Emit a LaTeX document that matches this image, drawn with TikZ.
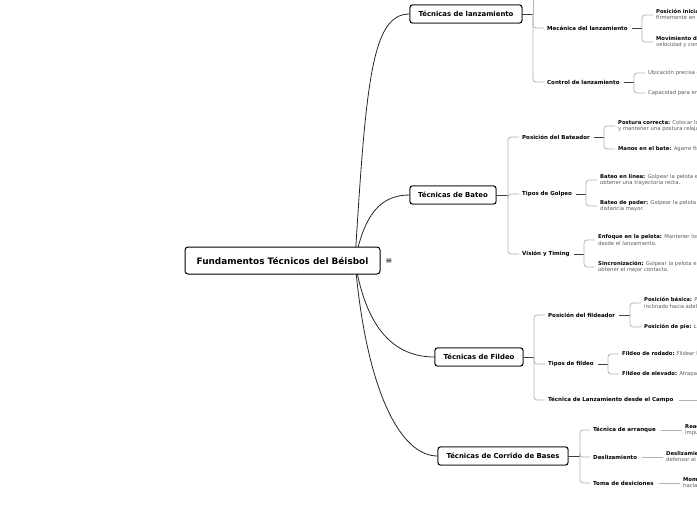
\documentclass[tikz,border=0pt]{standalone}
\usepackage{fontspec}
\setmainfont{DejaVu Sans}
\begin{document}
\begin{tikzpicture}[x=1pt,y=-1pt,
  rootbox/.style={draw=black, line width=1pt, rounded corners=3pt, fill=white, minimum width=195pt, minimum height=27pt, font=\fontsize{8.9}{10}\selectfont\bfseries, inner sep=0pt},
  topicbox/.style={draw=black, line width=0.9pt, rounded corners=2.5pt, fill=white, minimum height=18pt, font=\fontsize{6.9}{8}\selectfont\bfseries, inner sep=0pt},
  subtext/.style={font=\fontsize{5.5}{6.5}\selectfont\bfseries, anchor=west, inner sep=1pt},
  leaf/.style={font=\fontsize{5.3}{6.6}\selectfont, text=black!65, anchor=west, align=left, inner sep=1pt},
  mainlink/.style={line width=0.8pt, black!85},
  stem/.style={line width=0.8pt, black!75},
  bracket/.style={line width=0.8pt, black!30, rounded corners=3pt},
]
\newcommand{\lb}[1]{\textcolor{black}{\bfseries #1}}
\useasboundingbox (0,0) rectangle (697,520);
\clip (0,0) rectangle (697,520);

% topic boxes (placed first for names)
\node[topicbox, minimum width=112pt] (t1) at (466,14) {Técnicas de lanzamiento};
\node[topicbox, minimum width=86pt] (t2) at (453,195) {Técnicas de Bateo};
\node[topicbox, minimum width=88pt] (t3) at (479,357) {Técnicas de Fildeo};
\node[topicbox, minimum width=130pt] (t4) at (503,456) {Técnicas de Corrido de Bases};

% root curves
\coordinate (rc) at (355,261);
\draw[mainlink] (rc) .. controls (366,80) and (372,14) .. (t1.west);
\draw[mainlink] (rc) .. controls (364,215) and (380,195) .. (t2.west);
\draw[mainlink] (rc) .. controls (366,330) and (395,357) .. (t3.west);
\draw[mainlink] (rc) .. controls (366,390) and (400,456) .. (t4.west);

% redraw boxes over curves
\node[topicbox, minimum width=112pt] at (t1) {Técnicas de lanzamiento};
\node[topicbox, minimum width=86pt] at (t2) {Técnicas de Bateo};
\node[topicbox, minimum width=88pt] at (t3) {Técnicas de Fildeo};
\node[topicbox, minimum width=130pt] at (t4) {Técnicas de Corrido de Bases};

\node[rootbox] (root) at (282.5,260.5) {Fundamentos Técnicos del Béisbol};
\node[font=\fontsize{8}{9}\selectfont] (menu) at (389,261) {≡};

% ---------- Técnicas de lanzamiento ----------
\coordinate (j1) at (533,14);
\coordinate (j1top) at (533,-6);
\draw[stem] (t1.east) -- (j1);
\node[subtext] (s11) at (546,28) {Mecánica del lanzamiento};
\node[subtext] (s12) at (546,82) {Control de lanzamiento};
\draw[bracket] (j1top) -- (j1);
\draw[bracket] (j1) |- ([xshift=-2pt]s11.west);
\draw[bracket] (j1) |- ([xshift=-2pt]s12.west);

\coordinate (sj11) at (642,28);
\draw[stem] ([xshift=3pt]s11.east) -- (sj11);
\node[leaf] (l111) at (655,15) {\lb{Posición inicial:} Pararse con el pie de pivote\\firmemente en la goma del lanzador.};
\node[leaf] (l112) at (655,42) {\lb{Movimiento del brazo:} Generar\\velocidad y control en el lanzamiento.};
\draw[bracket] (sj11) |- ([xshift=-2pt]l111.west);
\draw[bracket] (sj11) |- ([xshift=-2pt]l112.west);

\coordinate (sj12) at (634,82);
\draw[stem] ([xshift=3pt]s12.east) -- (sj12);
\node[leaf] (l121) at (647,73) {Ubicación precisa de los lanzamientos.};
\node[leaf] (l122) at (647,93) {Capacidad para engañar al bateador.};
\draw[bracket] (sj12) |- ([xshift=-2pt]l121.west);
\draw[bracket] (sj12) |- ([xshift=-2pt]l122.west);

% ---------- Técnicas de Bateo ----------
\coordinate (j2) at (508,195);
\draw[stem] (t2.east) -- (j2);
\node[subtext] (s21) at (521,137) {Posición del Bateador};
\node[subtext] (s22) at (521,194) {Tipos de Golpeo};
\node[subtext] (s23) at (521,254) {Visión y Timing};
\draw[bracket] (j2) |- ([xshift=-2pt]s21.west);
\draw[bracket] (j2) |- ([xshift=-2pt]s22.west);
\draw[bracket] (j2) |- ([xshift=-2pt]s23.west);

\coordinate (sj21) at (604,137);
\draw[stem] ([xshift=3pt]s21.east) -- (sj21);
\node[leaf] (l211) at (617,126) {\lb{Postura correcta:} Colocar los pies a la anchura\\y mantener una postura relajada.};
\node[leaf] (l212) at (617,149) {\lb{Manos en el bate:} Agarre firme pero relajado.};
\draw[bracket] (sj21) |- ([xshift=-2pt]l211.west);
\draw[bracket] (sj21) |- ([xshift=-2pt]l212.west);

\coordinate (sj22) at (586,194);
\draw[stem] ([xshift=3pt]s22.east) -- (sj22);
\node[leaf] (l221) at (599,180) {\lb{Bateo en línea:} Golpear la pelota en el centro para\\obtener una trayectoria recta.};
\node[leaf] (l222) at (599,206) {\lb{Bateo de poder:} Golpear la pelota con fuerza para lograr una\\distancia mayor.};
\draw[bracket] (sj22) |- ([xshift=-2pt]l221.west);
\draw[bracket] (sj22) |- ([xshift=-2pt]l222.west);

\coordinate (sj23) at (584,254);
\draw[stem] ([xshift=3pt]s23.east) -- (sj23);
\node[leaf] (l231) at (597,240) {\lb{Enfoque en la pelota:} Mantener los ojos en la pelota\\desde el lanzamiento.};
\node[leaf] (l232) at (597,267) {\lb{Sincronización:} Golpear la pelota en el momento justo para\\obtener el mejor contacto.};
\draw[bracket] (sj23) |- ([xshift=-2pt]l231.west);
\draw[bracket] (sj23) |- ([xshift=-2pt]l232.west);

% ---------- Técnicas de Fildeo ----------
\coordinate (j3) at (534,357);
\draw[stem] (t3.east) -- (j3);
\node[subtext] (s31) at (547,315) {Posición del fildeador};
\node[subtext] (s32) at (547,364) {Tipos de fildeo};
\node[subtext] (s33) at (547,400) {Técnica de Lanzamiento desde el Campo};
\draw[bracket] (j3) |- ([xshift=-2pt]s31.west);
\draw[bracket] (j3) |- ([xshift=-2pt]s32.west);
\draw[bracket] (j3) |- ([xshift=-2pt]s33.west);

\coordinate (sj31) at (630,315);
\draw[stem] ([xshift=3pt]s31.east) -- (sj31);
\node[leaf] (l311) at (643,303) {\lb{Posición básica:} Pies separados y cuerpo\\inclinado hacia adelante.};
\node[leaf] (l312) at (643,327) {\lb{Posición de pie:} Listo para moverse.};
\draw[bracket] (sj31) |- ([xshift=-2pt]l311.west);
\draw[bracket] (sj31) |- ([xshift=-2pt]l312.west);

\coordinate (sj32) at (608,364);
\draw[stem] ([xshift=3pt]s32.east) -- (sj32);
\node[leaf] (l321) at (621,354) {\lb{Fildeo de rodado:} Fildear la pelota con ambas manos.};
\node[leaf] (l322) at (621,374) {\lb{Fildeo de elevado:} Atrapar la pelota en el aire.};
\draw[bracket] (sj32) |- ([xshift=-2pt]l321.west);
\draw[bracket] (sj32) |- ([xshift=-2pt]l322.west);

\coordinate (sj33) at (705,400);
\draw[bracket] ([xshift=4pt]s33.east) -- (sj33);

% ---------- Técnicas de Corrido de Bases ----------
\coordinate (j4) at (580,456);
\draw[stem] (t4.east) -- (j4);
\node[subtext] (s41) at (592,430) {Técnica de arranque};
\node[subtext] (s42) at (592,457) {Deslizamiento};
\node[subtext] (s43) at (592,483) {Toma de desiciones};
\draw[bracket] (j4) |- ([xshift=-2pt]s41.west);
\draw[bracket] (j4) |- ([xshift=-2pt]s42.west);
\draw[bracket] (j4) |- ([xshift=-2pt]s43.west);

\node[leaf] (l411) at (684,430) {\lb{Reacción rápida:} Salir con fuerza y\\impulso desde la base.};
\node[leaf] (l421) at (665,457) {\lb{Deslizamiento:} Evitar al\\defensor al llegar a la base.};
\node[leaf] (l431) at (682,483) {\lb{Momento oportuno:} Avanzar\\hacia la siguiente base.};
\draw[bracket] ([xshift=4pt]s41.east) -- ([xshift=-2pt]l411.west);
\draw[bracket] ([xshift=4pt]s42.east) -- ([xshift=-2pt]l421.west);
\draw[bracket] ([xshift=4pt]s43.east) -- ([xshift=-2pt]l431.west);
\end{tikzpicture}
\end{document}
